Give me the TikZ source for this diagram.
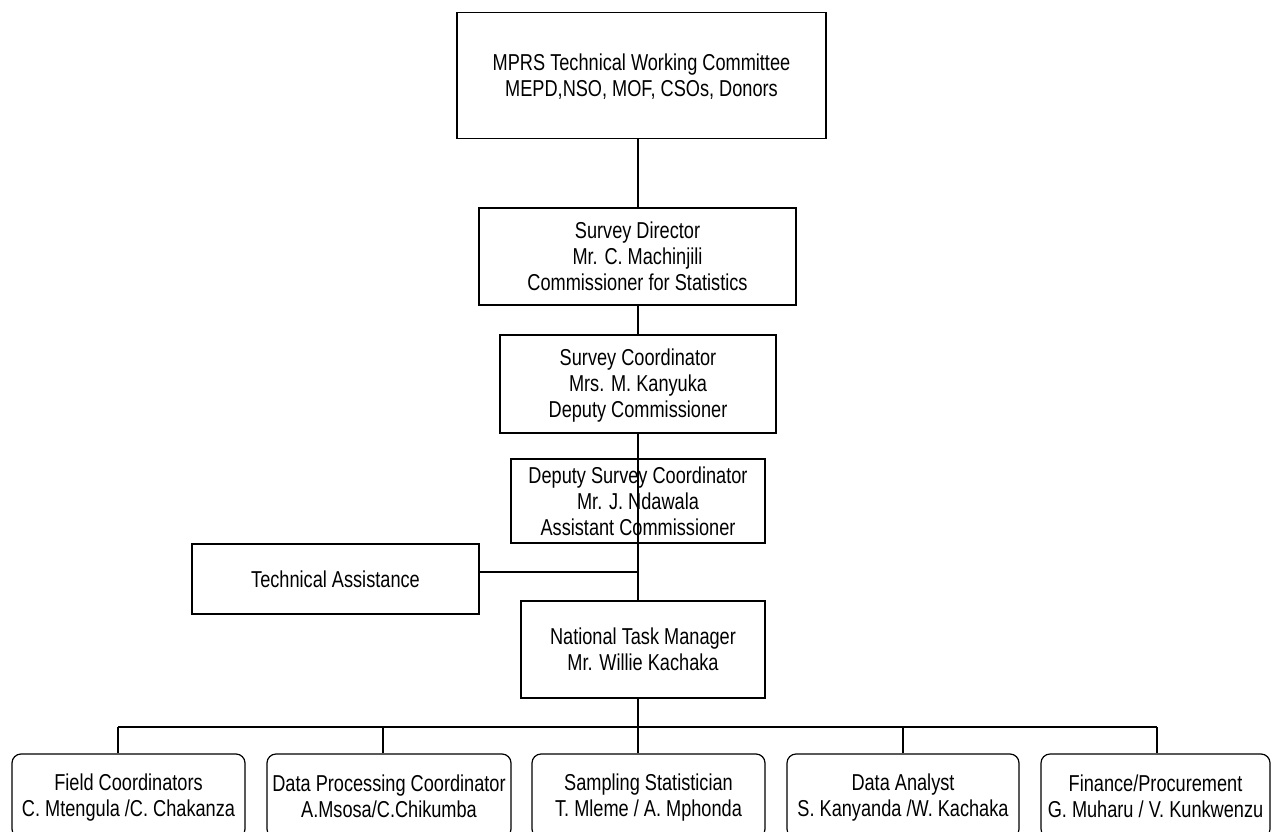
\documentclass[tikz,border=0pt]{standalone}
\usepackage{fontspec}
\setmainfont{Liberation Sans}[FakeStretch=0.79]
\newcommand{\bs}{\rule[-3pt]{0pt}{22pt}}
\begin{document}
\begin{tikzpicture}[x=1pt,y=-1pt,line width=1.2pt,
  box/.style={draw, rectangle, align=center, inner sep=0pt, font=\fontsize{23}{26}\selectfont},
  rbox/.style={box, rounded corners=9pt, minimum height=84pt}]
\useasboundingbox (0,0) rectangle (1271,832);
\node[box, minimum width=369pt, minimum height=126pt] (twc) at (641.5,75.5)
  {\bs MPRS Technical Working Committee\\MEPD,NSO, MOF, CSOs, Donors\bs};
\node[box, minimum width=317pt, minimum height=97pt] (dir) at (637.5,256.5)
  {\bs Survey Director\\Mr. C. Machinjili\\Commissioner for Statistics\bs};
\node[box, minimum width=276pt, minimum height=98pt] (coord) at (638,384)
  {\bs Survey Coordinator\\Mrs. M. Kanyuka\\Deputy Commissioner\bs};
\node[box, minimum width=254pt, minimum height=84pt] (dep) at (638,501)
  {\bs Deputy Survey Coordinator\\Mr. J. Ndawala\\Assistant Commissioner\bs};
\node[box, minimum width=287pt, minimum height=70pt] (ta) at (335.5,579)
  {\bs Technical Assistance};
\node[box, minimum width=244pt, minimum height=97pt] (ntm) at (643,649.5)
  {\bs National Task Manager\\Mr. Willie Kachaka\bs};
\node[rbox, minimum width=233pt] (fc) at (128.5,796)
  {\bs Field Coordinators\\C. Mtengula /C. Chakanza\bs};
\node[rbox, minimum width=244pt] (dp) at (389,796)
  {\bs Data Processing Coordinator\\A.Msosa/C.Chikumba\bs};
\node[rbox, minimum width=233pt] (ss) at (648.5,796)
  {\bs Sampling Statistician\\T. Mleme / A. Mphonda\bs};
\node[rbox, minimum width=232pt] (da) at (903,796)
  {\bs Data Analyst\\S. Kanyanda /W. Kachaka\bs};
\node[rbox, minimum width=229pt] (fp) at (1155.5,796)
  {\bs Finance/Procurement\\G. Muharu / V. Kunkwenzu\bs};
\coordinate (spine) at (638,0);
\coordinate (d1) at (118,727);
\coordinate (d2) at (383,727);
\coordinate (d3) at (638,727);
\coordinate (d4) at (903,727);
\coordinate (d5) at (1157,727);
\draw (twc.south -| spine) -- (dir.north -| spine);
\draw (dir.south -| spine) -- (coord.north -| spine);
\draw (coord.south -| spine) -- (ntm.north -| spine);
\draw ([yshift=7pt]ta.east) -- ([yshift=7pt]ta.east -| spine);
\draw (ntm.south -| spine) -- (d3);
\draw (d1) -- (d5);
\draw (d1) -- (d1 |- fc.north);
\draw (d2) -- (d2 |- dp.north);
\draw (d3) -- (d3 |- ss.north);
\draw (d4) -- (d4 |- da.north);
\draw (d5) -- (d5 |- fp.north);
\end{tikzpicture}
\end{document}
